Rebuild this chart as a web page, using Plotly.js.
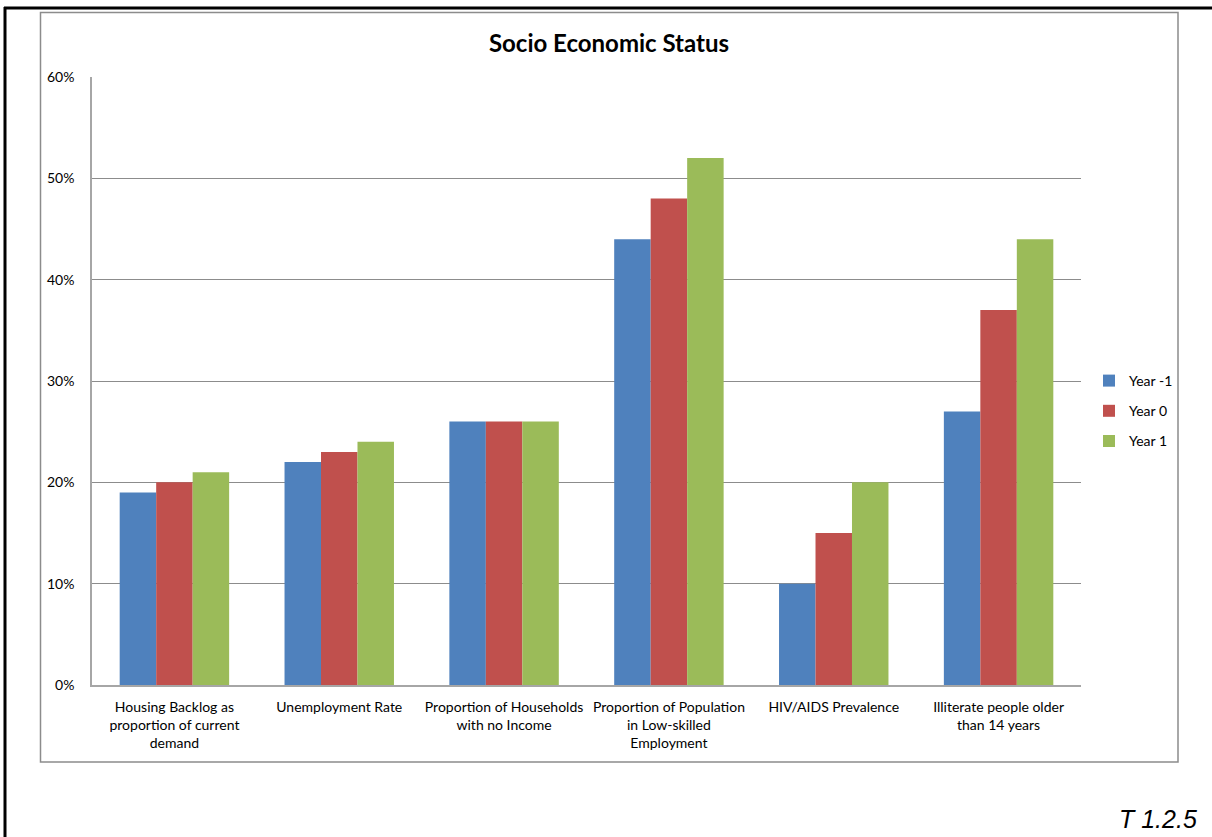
<!DOCTYPE html>
<html>
<head>
<meta charset="utf-8">
<script src="https://cdn.plot.ly/plotly-3.0.1.min.js"></script>
<style>html,body{margin:0;padding:0;background:#fff;}#chart{width:1212px;height:837px;}</style>
</head>
<body>
<div id="chart"></div>
<script>
const categories = [
  "Housing Backlog as<br>proportion of current<br>demand",
  "Unemployment Rate",
  "Proportion of Households<br>with no Income",
  "Proportion of Population<br>in Low-skilled<br>Employment",
  "HIV/AIDS Prevalence",
  "Illiterate people older<br>than 14 years"
];
const seriesNames = ["Year -1", "Year 0", "Year 1"];
const yearMinus1 = [0.19, 0.22, 0.26, 0.44, 0.10, 0.27];
const year0 = [0.20, 0.23, 0.26, 0.48, 0.15, 0.37];
const year1 = [0.21, 0.24, 0.26, 0.52, 0.20, 0.44];
const colors = ["#4F81BD", "#C0504D", "#9BBB59"];
const values = [yearMinus1, year0, year1];

const traces = values.map((v, i) => ({
  type: "bar",
  name: seriesNames[i],
  legendgroup: "g" + i,
  x: categories,
  y: v,
  marker: {color: colors[i], line: {width: 0}},
  hoverinfo: "x+y+name"
}));

const L = 92, R = 1081, T = 77, B = 685;
const px = x => (x - L) / (R - L);
const py = y => (B - y) / (B - T);

const layout = {
  width: 1212, height: 837,
  margin: {l: L, r: 1212 - R, t: T, b: 837 - B, pad: 0},
  paper_bgcolor: "#ffffff",
  plot_bgcolor: "#ffffff",
  font: {family: "Lato, 'Open Sans', sans-serif", size: 14, color: "#000"},
  title: {
    text: "<b>Socio Economic Status</b>",
    font: {family: "Lato, sans-serif", size: 24, color: "#000"},
    x: px(609), xref: "paper", xanchor: "center",
    y: 1 - 44 / 837, yanchor: "middle"
  },
  barmode: "group",
  bargap: 0.336,
  bargroupgap: 0,
  xaxis: {
    showgrid: false, showline: true, linecolor: "#a6a6a6", linewidth: 1.5,
    ticks: "", tickfont: {size: 14}, ticklabelstandoff: 8,
    automargin: false, fixedrange: true
  },
  yaxis: {
    range: [0, 0.6], dtick: 0.1, tickformat: ".0%",
    showgrid: true, gridcolor: "#8c8c8c", gridwidth: 1,
    showline: true, linecolor: "#a6a6a6", linewidth: 1.5,
    zeroline: false, ticks: "", ticklabelstandoff: 13,
    tickfont: {size: 14}, automargin: false, fixedrange: true
  },
  legend: {
    x: px(1089), xanchor: "left", y: py(411), yanchor: "middle",
    font: {size: 14}, bgcolor: "rgba(0,0,0,0)",
    traceorder: "grouped", tracegroupgap: 9,
    itemwidth: 30
  },
  shapes: [
    {type: "rect", xref: "paper", yref: "paper", x0: px(40.5), x1: px(1178), y0: py(762), y1: py(12.5),
     line: {color: "#8c8c8c", width: 1.5}, fillcolor: "rgba(0,0,0,0)", layer: "below"},
    {type: "line", xref: "paper", yref: "paper", x0: px(4), x1: px(1212), y0: py(8), y1: py(8),
     line: {color: "#000", width: 3}},
    {type: "line", xref: "paper", yref: "paper", x0: px(5), x1: px(5), y0: py(7), y1: py(837),
     line: {color: "#000", width: 3}}
  ],
  annotations: [
    {text: "<i>T 1.2.5</i>", xref: "paper", yref: "paper", x: px(1199), y: py(819),
     xanchor: "right", yanchor: "middle", showarrow: false,
     font: {family: "'Liberation Sans', Arial, sans-serif", size: 25, color: "#000"}}
  ],
  showlegend: true
};

Plotly.newPlot("chart", traces, layout, {displayModeBar: false, responsive: false});
</script>
</body>
</html>
